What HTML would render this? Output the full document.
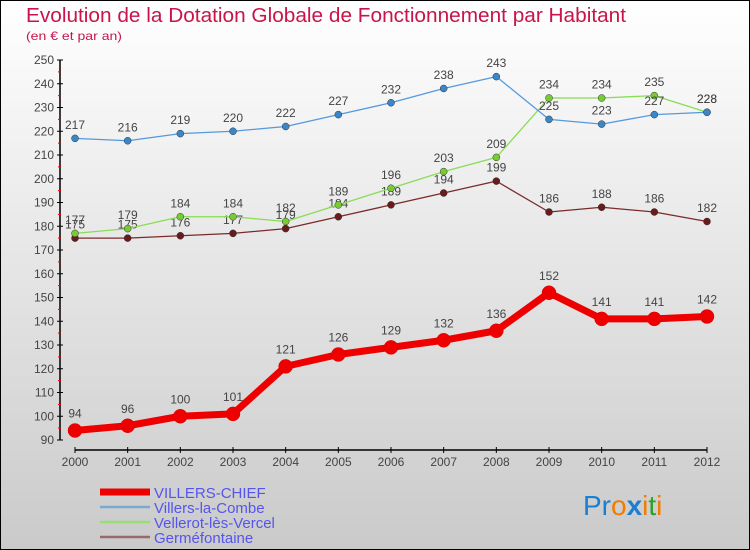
<!DOCTYPE html>
<html><head><meta charset="utf-8"><style>
body{margin:0}
svg{display:block;font-family:"Liberation Sans",sans-serif}
</style></head><body>
<svg id="c" width="750" height="550" xmlns="http://www.w3.org/2000/svg">
<defs><linearGradient id="bg" x1="0" y1="0" x2="0" y2="1"><stop offset="0" stop-color="#ffffff"/><stop offset="1" stop-color="#cacaca"/></linearGradient></defs>
<rect x="0.5" y="0.5" width="749" height="549" fill="url(#bg)" stroke="#000"/>
<text x="26" y="22" font-size="20" fill="#c8144a" textLength="600" lengthAdjust="spacingAndGlyphs">Evolution de la Dotation Globale de Fonctionnement par Habitant</text>
<text x="26" y="40" font-size="12" fill="#c8144a" textLength="96" lengthAdjust="spacingAndGlyphs">(en € et par an)</text>
<g id="axes"></g><g id="series"></g><g id="legend"></g>
<text x="583" y="515" font-size="28"><tspan fill="#1a7fd0">Pr</tspan><tspan fill="#f07c00">o</tspan><tspan fill="#1a7fd0" font-weight="bold">x</tspan><tspan fill="#f07c00">i</tspan><tspan fill="#2ca02c">t</tspan><tspan fill="#f07c00">i</tspan></text>
</svg>
<script>
const years=[2000,2001,2002,2003,2004,2005,2006,2007,2008,2009,2010,2011,2012];
const yTicks=[90,100,110,120,130,140,150,160,170,180,190,200,210,220,230,240,250];
const villersChief=[94,96,100,101,121,126,129,132,136,152,141,141,142];
const villersLaCombe=[217,216,219,220,222,227,232,238,243,225,223,227,228];
const vellerot=[177,179,184,184,182,189,196,203,209,234,234,235,228];
const germefontaine=[175,175,176,177,179,184,189,194,199,186,188,186,182];
const NS="http://www.w3.org/2000/svg";
const X=i=>75+i*(707-75)/12;
const Y=v=>440-(v-90)*(380/160);
function mk(p,t,a){const e=document.createElementNS(NS,t);for(const k in a)e.setAttribute(k,a[k]);p.appendChild(e);return e;}
const ax=document.getElementById('axes');
let l=mk(ax,'line',{x1:60,y1:Y(250),x2:60,y2:Y(90),stroke:'#000','stroke-width':1.5});


yTicks.forEach(v=>{
 let t=mk(ax,'line',{x1:57,y1:Y(v),x2:63,y2:Y(v),stroke:'#000'});
 
 
 let r=mk(ax,'line',{x1:58,y1:Y(v+5),x2:61,y2:Y(v+5),stroke:'#e00'});
 if(v===250)r.remove();
 let tx=mk(ax,'text',{x:54,y:Y(v)+4,'text-anchor':'end','font-size':12,fill:'#444'});tx.textContent=v;
 
 
});
l=mk(ax,'line',{x1:75,y1:450,x2:707,y2:450,stroke:'#000','stroke-width':1.5});


years.forEach((y,i)=>{
 let t=mk(ax,'line',{x1:X(i),y1:447,x2:X(i),y2:453,stroke:'#000'});
 
 
 let tx=mk(ax,'text',{x:X(i),y:466,'text-anchor':'middle','font-size':12,fill:'#444'});tx.textContent=y;
 
 
});
const se=document.getElementById('series');
function draw(vals,color,w,r,name,dot){
 const g=mk(se,'g',{});
 
 
 let p=mk(g,'polyline',{points:vals.map((v,i)=>X(i)+','+Y(v)).join(' '),fill:'none',stroke:color,'stroke-width':w,'stroke-linejoin':'round'});
 
 
 vals.forEach((v,i)=>{
  let c=mk(g,'circle',{cx:X(i),cy:Y(v),r:r,fill:dot,stroke:color=='#ee0000'?'#d00':'#333','stroke-width':0.5});
  
  
  let t=mk(g,'text',{x:X(i),y:Y(v)-(r+6),'text-anchor':'middle','font-size':12,fill:'#444'});t.textContent=v;
  
  
 });
}
draw(germefontaine,'#7a2a2a',1.3,3.5,'germefontaine','#6a1a1a');
draw(vellerot,'#88dd55',1.3,3.5,'vellerot-les-vercel','#77cc33');
draw(villersLaCombe,'#5599dd',1.3,3.5,'villers-la-combe','#3a86c8');
draw(villersChief,'#ee0000',7,7,'villers-chief','#ee0000');
const lg=document.getElementById('legend');
[['VILLERS-CHIEF','#ee0000',7],['Villers-la-Combe','#7aaad0',2.5],['Vellerot-lès-Vercel','#99dd77',2.5],['Germéfontaine','#9a6a6a',2.5]].forEach((e,i)=>{
 const y=492+i*15;
 let s=mk(lg,'line',{x1:100,y1:y,x2:150,y2:y,stroke:e[1],'stroke-width':e[2]});
 
 
 let t=mk(lg,'text',{x:154,y:y+6,'font-size':15,fill:'#5555ee'});t.textContent=e[0];
 
 
});
</script>
</body></html>
